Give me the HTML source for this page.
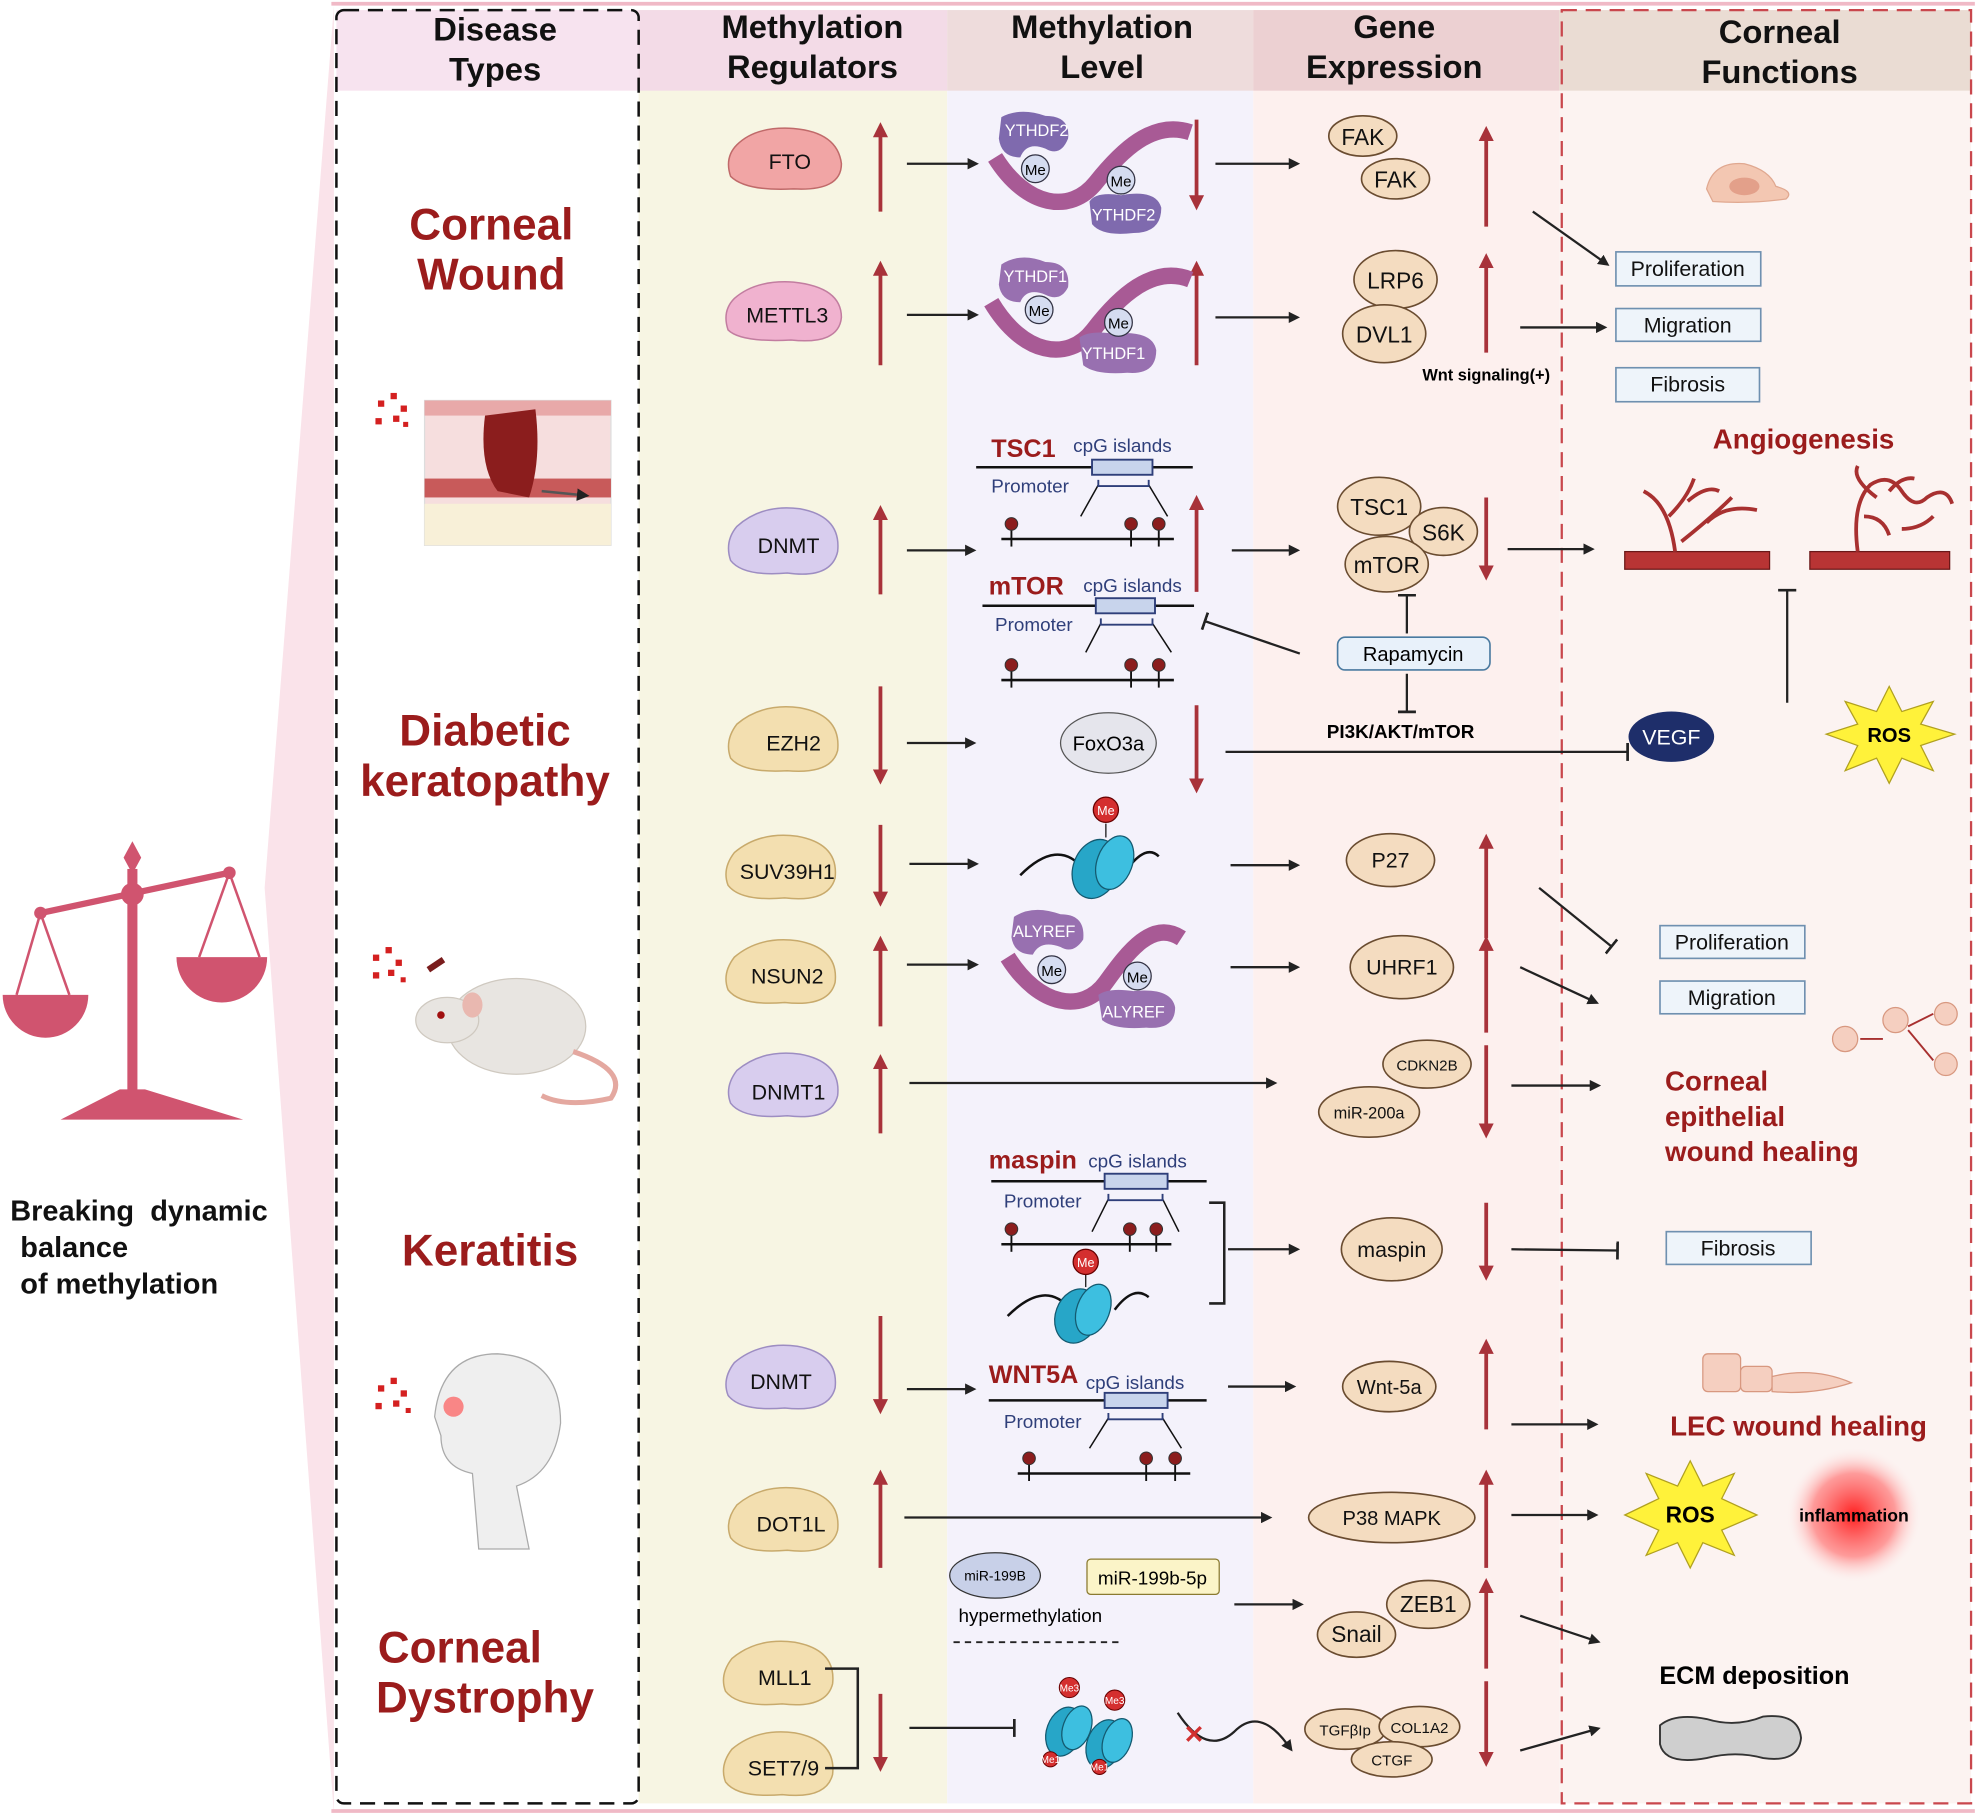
<!DOCTYPE html>
<html><head><meta charset="utf-8"><style>
html,body{margin:0;padding:0;background:#fff}
svg{display:block}
text{font-family:"Liberation Sans",Arial,sans-serif}
</style></head><body>
<svg width="1975" height="1816" viewBox="0 0 1568 1442" xmlns="http://www.w3.org/2000/svg">
<defs>
<marker id="rh" markerWidth="4" markerHeight="4" refX="1" refY="2" orient="auto"><path d="M0,0 L4,2 L0,4z" fill="#a8323a"/></marker>
<marker id="bh" markerWidth="5" markerHeight="5" refX="1" refY="2.5" orient="auto"><path d="M0,0 L5,2.5 L0,5z" fill="#222"/></marker>
<marker id="tb" markerWidth="2" markerHeight="8" refX="1" refY="4" orient="auto"><rect x="0" y="0" width="1.2" height="8" fill="#222"/></marker>
<radialGradient id="inf"><stop offset="0" stop-color="#ff2020"/><stop offset="0.6" stop-color="#ff6060" stop-opacity="0.6"/><stop offset="1" stop-color="#fff" stop-opacity="0"/></radialGradient>
</defs>
<rect width="1568" height="1442" fill="#fff"/>
<polygon points="265,5 210,705 265,1440" fill="#fae3ea"/>
<rect x="267" y="8" width="240" height="1424" fill="#fff"/>
<rect x="507" y="8" width="245" height="1424" fill="#f7f5e3"/>
<rect x="752" y="8" width="243" height="1424" fill="#f4f2fb"/>
<rect x="995" y="8" width="243" height="1424" fill="#fdf0ee"/>
<rect x="1238" y="8" width="327" height="1424" fill="#fcf3f1"/>
<rect x="267" y="8" width="240" height="64" fill="#f7e3ef"/>
<rect x="507" y="8" width="245" height="64" fill="#f3dbe7"/>
<rect x="752" y="8" width="243" height="64" fill="#eedcdc"/>
<rect x="995" y="8" width="243" height="64" fill="#ecd0d2"/>
<rect x="1238" y="8" width="327" height="64" fill="#eadcd3"/>
<line x1="263" y1="3" x2="1568" y2="3" stroke="#f0b9c6" stroke-width="3"/>
<line x1="263" y1="1438" x2="1568" y2="1438" stroke="#f0b9c6" stroke-width="3"/>
<rect x="267" y="8" width="240" height="1424" fill="none" stroke="#111" stroke-width="2" stroke-dasharray="12,7" rx="6"/>
<rect x="1240" y="8" width="325" height="1424" fill="none" stroke="#c9474d" stroke-width="1.8" stroke-dasharray="12,7"/>
<g font-size="26" font-weight="bold" fill="#111" text-anchor="middle">
<text x="393" y="32">Disease</text><text x="393" y="64">Types</text>
<text x="645" y="30">Methylation</text><text x="645" y="62">Regulators</text>
<text x="875" y="30">Methylation</text><text x="875" y="62">Level</text>
<text x="1107" y="30">Gene</text><text x="1107" y="62">Expression</text>
<text x="1413" y="34">Corneal</text><text x="1413" y="66">Functions</text>
</g>
<g font-size="35" font-weight="bold" fill="#9b1c1c" text-anchor="middle">
<text x="390" y="190">Corneal</text><text x="390" y="230">Wound</text>
<text x="385" y="592">Diabetic</text><text x="385" y="632">keratopathy</text>
<text x="389" y="1005">Keratitis</text>
<text x="365" y="1320">Corneal</text><text x="385" y="1360">Dystrophy</text>
</g>
<g fill="#d0546f" stroke="#d0546f">
<polygon points="105,668 112,681 105,694 98,681" stroke="none"/>
<rect x="101" y="690" width="8" height="180" stroke="none"/>
<line x1="32" y1="725" x2="182" y2="693" stroke-width="5"/>
<circle cx="105" cy="710" r="9" stroke="none"/>
<circle cx="32" cy="725" r="5" stroke="none"/><circle cx="182" cy="693" r="5" stroke="none"/>
<path d="M2,790 A34,34 0 0 0 70,790 Z" stroke="none"/>
<path d="M140,760 A36,36 0 0 0 212,760 Z" stroke="none"/>
<line x1="32" y1="725" x2="13" y2="790" stroke-width="2"/><line x1="32" y1="725" x2="55" y2="790" stroke-width="2"/>
<line x1="182" y1="693" x2="158" y2="760" stroke-width="2"/><line x1="182" y1="693" x2="206" y2="760" stroke-width="2"/>
<path d="M48,889 L95,865 L115,865 L193,889 Z" stroke="none"/>
</g>
<g font-size="23" font-weight="bold" fill="#111">
<text x="8" y="969" xml:space="preserve">Breaking  dynamic</text><text x="16" y="998">balance</text><text x="16" y="1027">of methylation</text>
</g>
<g>
<rect x="337" y="318" width="148" height="115" fill="#f6dede" stroke="#ddd"/>
<rect x="337" y="318" width="148" height="12" fill="#e8a9a9"/>
<rect x="337" y="380" width="148" height="15" fill="#c85a5a"/>
<rect x="337" y="400" width="148" height="33" fill="#f8f0d8"/>
<path d="M385,330 Q380,370 395,390 L420,395 Q430,365 425,325 Z" fill="#8b1d1d"/>
<path d="M430,390 L460,393" stroke="#555" stroke-width="2" marker-end="url(#bh)"/>
<g fill="#d42020"><rect x="300" y="318" width="5" height="5"/><rect x="310" y="312" width="5" height="5"/><rect x="318" y="322" width="5" height="5"/><rect x="298" y="332" width="5" height="5"/><rect x="312" y="330" width="5" height="5"/><rect x="320" y="335" width="4" height="4"/></g>
</g>
<g>
<ellipse cx="410" cy="815" rx="55" ry="38" fill="#e8e5e1" stroke="#cfc9c0"/>
<ellipse cx="355" cy="810" rx="25" ry="18" fill="#e8e5e1" stroke="#cfc9c0"/>
<ellipse cx="375" cy="798" rx="8" ry="10" fill="#e9b8b0"/>
<circle cx="350" cy="806" r="3" fill="#a01010"/>
<path d="M455,835 Q500,850 485,872 Q450,880 430,870" fill="none" stroke="#e4a8a0" stroke-width="4"/>
<path d="M340,770 L352,762" stroke="#7a1d1d" stroke-width="5"/>
<g fill="#d42020"><rect x="296" y="758" width="5" height="5"/><rect x="306" y="752" width="5" height="5"/><rect x="314" y="762" width="5" height="5"/><rect x="296" y="772" width="5" height="5"/><rect x="308" y="770" width="5" height="5"/><rect x="318" y="776" width="4" height="4"/></g>
</g>
<g>
<path d="M380,1230 L375,1170 Q350,1165 350,1140 L345,1125 Q350,1075 395,1075 Q445,1078 445,1130 Q440,1170 410,1180 L420,1230 Z" fill="#efefef" stroke="#aaa"/>
<circle cx="360" cy="1117" r="8" fill="#ff4040" opacity="0.6"/>
<g fill="#d42020"><rect x="300" y="1100" width="5" height="5"/><rect x="310" y="1094" width="5" height="5"/><rect x="318" y="1104" width="5" height="5"/><rect x="298" y="1114" width="5" height="5"/><rect x="312" y="1112" width="5" height="5"/><rect x="322" y="1118" width="4" height="4"/></g>
</g>
<g font-size="17" fill="#111" text-anchor="middle" stroke-width="1.2">
<path d="M585,115 Q600,100 630,102 Q665,105 668,130 Q668,152 630,150 Q592,152 580,140 Q575,125 585,115Z" fill="#f1a5a5" stroke="#c06a6a"/><text x="627" y="134">FTO</text>
<path d="M583,237 Q600,222 630,224 Q668,228 668,252 Q666,274 628,270 Q588,272 578,262 Q573,247 583,237Z" fill="#f0b2cf" stroke="#c27da0"/><text x="625" y="256">METTL3</text>
<path d="M585,418 Q605,400 635,404 Q668,410 665,438 Q660,460 625,455 Q590,458 580,445 Q575,430 585,418Z" fill="#d8cdee" stroke="#9d8dc2"/><text x="626" y="439">DNMT</text>
<path d="M585,575 Q605,558 635,562 Q668,568 665,596 Q660,615 625,612 Q590,614 580,602 Q575,588 585,575Z" fill="#f3dfb0" stroke="#c8aa6c"/><text x="630" y="596">EZH2</text>
<path d="M583,677 Q603,660 633,664 Q666,670 663,697 Q658,717 623,713 Q588,716 578,703 Q573,690 583,677Z" fill="#f3dfb0" stroke="#c8aa6c"/><text x="625" y="698">SUV39H1</text>
<path d="M583,760 Q603,743 633,747 Q666,753 663,780 Q658,800 623,796 Q588,799 578,786 Q573,773 583,760Z" fill="#f3dfb0" stroke="#c8aa6c"/><text x="625" y="781">NSUN2</text>
<path d="M585,850 Q605,833 635,837 Q668,843 665,870 Q660,890 625,886 Q590,889 580,876 Q575,863 585,850Z" fill="#d8cdee" stroke="#9d8dc2"/><text x="626" y="873">DNMT1</text>
<path d="M583,1082 Q603,1065 633,1069 Q666,1075 663,1102 Q658,1122 623,1118 Q588,1121 578,1108 Q573,1095 583,1082Z" fill="#d8cdee" stroke="#9d8dc2"/><text x="620" y="1103">DNMT</text>
<path d="M585,1195 Q605,1178 635,1182 Q668,1188 665,1215 Q660,1235 625,1231 Q590,1234 580,1221 Q575,1208 585,1195Z" fill="#f3dfb0" stroke="#c8aa6c"/><text x="628" y="1216">DOT1L</text>
<path d="M581,1317 Q601,1300 631,1304 Q664,1310 661,1337 Q656,1357 621,1353 Q586,1356 576,1343 Q571,1330 581,1317Z" fill="#f3dfb0" stroke="#c8aa6c"/><text x="623" y="1338">MLL1</text>
<path d="M581,1389 Q601,1372 631,1376 Q664,1382 661,1409 Q656,1429 621,1425 Q586,1428 576,1415 Q571,1402 581,1389Z" fill="#f3dfb0" stroke="#c8aa6c"/><text x="622" y="1410">SET7/9</text>
</g>
<path d="M655,1325 H681 V1404 H655" fill="none" stroke="#222" stroke-width="2"/>
<g stroke="#a8323a" stroke-width="3" fill="none" marker-end="url(#rh)">
<line x1="699" y1="168" x2="699" y2="106"/>
<line x1="699" y1="290" x2="699" y2="216"/>
<line x1="699" y1="472" x2="699" y2="410"/>
<line x1="699" y1="545" x2="699" y2="614"/>
<line x1="699" y1="655" x2="699" y2="711"/>
<line x1="699" y1="815" x2="699" y2="752"/>
<line x1="699" y1="900" x2="699" y2="846"/>
<line x1="699" y1="1045" x2="699" y2="1114"/>
<line x1="699" y1="1245" x2="699" y2="1176"/>
<line x1="699" y1="1345" x2="699" y2="1398"/>
<line x1="950" y1="95" x2="950" y2="158"/>
<line x1="950" y1="290" x2="950" y2="216"/>
<line x1="950" y1="470" x2="950" y2="402"/>
<line x1="950" y1="560" x2="950" y2="621"/>
<line x1="1180" y1="180" x2="1180" y2="109"/>
<line x1="1180" y1="280" x2="1180" y2="210"/>
<line x1="1180" y1="395" x2="1180" y2="452"/>
<line x1="1180" y1="745" x2="1180" y2="671"/>
<line x1="1180" y1="820" x2="1180" y2="752"/>
<line x1="1180" y1="830" x2="1180" y2="895"/>
<line x1="1180" y1="955" x2="1180" y2="1008"/>
<line x1="1180" y1="1135" x2="1180" y2="1072"/>
<line x1="1180" y1="1245" x2="1180" y2="1176"/>
<line x1="1180" y1="1325" x2="1180" y2="1262"/>
<line x1="1180" y1="1335" x2="1180" y2="1394"/>
</g>
<g stroke="#222" stroke-width="1.8" fill="none" marker-end="url(#bh)">
<line x1="720" y1="130" x2="770" y2="130"/>
<line x1="720" y1="250" x2="770" y2="250"/>
<line x1="720" y1="437" x2="768" y2="437"/>
<line x1="720" y1="590" x2="768" y2="590"/>
<line x1="722" y1="686" x2="770" y2="686"/>
<line x1="720" y1="766" x2="770" y2="766"/>
<line x1="722" y1="860" x2="1007" y2="860"/>
<line x1="720" y1="1103" x2="768" y2="1103"/>
<line x1="718" y1="1205" x2="1003" y2="1205"/>
<line x1="965" y1="130" x2="1025" y2="130"/>
<line x1="965" y1="252" x2="1025" y2="252"/>
<line x1="978" y1="437" x2="1025" y2="437"/>
<line x1="977" y1="687" x2="1025" y2="687"/>
<line x1="977" y1="768" x2="1025" y2="768"/>
<line x1="975" y1="992" x2="1025" y2="992"/>
<line x1="975" y1="1101" x2="1022" y2="1101"/>
<line x1="980" y1="1274" x2="1028" y2="1274"/>
<line x1="1217" y1="168" x2="1272" y2="207"/>
<line x1="1207" y1="260" x2="1269" y2="260"/>
<line x1="1197" y1="436" x2="1259" y2="436"/>
<line x1="1207" y1="768" x2="1263" y2="794"/>
<line x1="1200" y1="862" x2="1264" y2="862"/>
<line x1="1200" y1="1131" x2="1262" y2="1131"/>
<line x1="1200" y1="1203" x2="1262" y2="1203"/>
<line x1="1207" y1="1283" x2="1264" y2="1302"/>
<line x1="1207" y1="1390" x2="1264" y2="1374"/>
<path d="M935,1360 Q958,1395 980,1375 Q1000,1355 1022,1385"/>
</g>
<g stroke="#222" stroke-width="1.8" fill="none" marker-end="url(#tb)">
<line x1="1032" y1="519" x2="956" y2="493"/>
<line x1="1117" y1="503" x2="1117" y2="472"/>
<line x1="1117" y1="535" x2="1117" y2="566"/>
<line x1="973" y1="597" x2="1293" y2="597"/>
<line x1="1419" y1="558" x2="1419" y2="468"/>
<line x1="1222" y1="705" x2="1280" y2="752"/>
<line x1="1200" y1="992" x2="1285" y2="993"/>
<line x1="722" y1="1372" x2="806" y2="1372"/>
</g>
<g>
<path d="M790,125 C815,165 850,170 870,145 S915,95 945,105" fill="none" stroke="#a85a95" stroke-width="13"/>
<path d="M795,93 Q810,85 830,92 Q850,92 848,110 Q842,125 830,118 Q815,112 810,125 Q795,125 793,110Z" fill="#7f6aae"/>
<text x="823" y="108" font-size="13" fill="#fff" text-anchor="middle">YTHDF2</text>
<path d="M865,160 Q870,152 890,155 Q918,150 922,165 Q922,185 900,185 Q875,188 867,178Z" fill="#7f6aae"/>
<text x="892" y="175" font-size="13" fill="#fff" text-anchor="middle">YTHDF2</text>
<circle cx="822" cy="134" r="11" fill="#d5dcf0" stroke="#334"/><text x="822" y="139" font-size="12" text-anchor="middle">Me</text>
<circle cx="890" cy="143" r="11" fill="#d5dcf0" stroke="#334"/><text x="890" y="148" font-size="12" text-anchor="middle">Me</text>
<path d="M787,240 C812,282 848,288 868,262 S915,210 945,222" fill="none" stroke="#a85a95" stroke-width="13"/>
<path d="M795,210 Q810,200 830,208 Q850,208 848,228 Q842,240 830,234 Q815,228 810,240 Q795,240 793,226Z" fill="#9870b0"/>
<text x="822" y="224" font-size="13" fill="#fff" text-anchor="middle">YTHDF1</text>
<path d="M857,268 Q865,262 885,265 Q915,262 918,278 Q918,298 895,296 Q870,298 860,290Z" fill="#9870b0"/>
<text x="884" y="285" font-size="13" fill="#fff" text-anchor="middle">YTHDF1</text>
<circle cx="825" cy="246" r="11" fill="#d5dcf0" stroke="#334"/><text x="825" y="251" font-size="12" text-anchor="middle">Me</text>
<circle cx="888" cy="256" r="11" fill="#d5dcf0" stroke="#334"/><text x="888" y="261" font-size="12" text-anchor="middle">Me</text>
<path d="M800,760 C825,800 860,805 878,780 S915,730 938,745" fill="none" stroke="#a85a95" stroke-width="13"/>
<path d="M805,728 Q820,718 842,726 Q862,726 860,746 Q852,758 842,752 Q826,746 820,758 Q805,758 803,744Z" fill="#9870b0"/>
<text x="829" y="744" font-size="13" fill="#fff" text-anchor="middle">ALYREF</text>
<path d="M872,790 Q880,784 900,787 Q930,784 933,800 Q933,818 910,816 Q885,818 875,810Z" fill="#9870b0"/>
<text x="900" y="808" font-size="13" fill="#fff" text-anchor="middle">ALYREF</text>
<circle cx="835" cy="770" r="11" fill="#d5dcf0" stroke="#334"/><text x="835" y="775" font-size="12" text-anchor="middle">Me</text>
<circle cx="903" cy="775" r="11" fill="#d5dcf0" stroke="#334"/><text x="903" y="780" font-size="12" text-anchor="middle">Me</text>
</g>
<g stroke="#111" stroke-width="2" fill="none">
<line x1="775" y1="371" x2="947" y2="371"/><line x1="795" y1="428" x2="932" y2="428"/>
<line x1="780" y1="481" x2="948" y2="481"/><line x1="795" y1="540" x2="932" y2="540"/>
<line x1="787" y1="938" x2="958" y2="938"/><line x1="795" y1="988" x2="930" y2="988"/>
<line x1="785" y1="1112" x2="958" y2="1112"/><line x1="808" y1="1170" x2="945" y2="1170"/>
</g>
<g stroke="#111" stroke-width="1.2" fill="none">
<path d="M858,410 L872,385 M927,410 L912,385"/>
<path d="M862,518 L874,495 M930,518 L915,495"/>
<path d="M867,978 L880,952 M936,978 L923,952"/>
<path d="M865,1150 L880,1126 M938,1150 L923,1126"/>
</g>
<g stroke="#2f3f7a" stroke-width="1.5" fill="none">
<path d="M872,381 V386 H912 V381"/><path d="M874,491 V496 H915 V491"/>
<path d="M880,948 V953 H923 V948"/><path d="M880,1122 V1127 H923 V1122"/>
</g>
<g fill="#c8d4ec" stroke="#2f3f7a" stroke-width="1.5">
<rect x="867" y="365" width="48" height="12"/><rect x="870" y="475" width="47" height="12"/>
<rect x="877" y="932" width="50" height="12"/><rect x="877" y="1106" width="50" height="12"/>
</g>
<g stroke="#111" stroke-width="1.5">
<line x1="803" y1="420" x2="803" y2="434"/><line x1="898" y1="420" x2="898" y2="434"/><line x1="920" y1="420" x2="920" y2="434"/>
<line x1="803" y1="532" x2="803" y2="546"/><line x1="898" y1="532" x2="898" y2="546"/><line x1="920" y1="532" x2="920" y2="546"/>
<line x1="803" y1="980" x2="803" y2="994"/><line x1="897" y1="980" x2="897" y2="994"/><line x1="918" y1="980" x2="918" y2="994"/>
<line x1="817" y1="1162" x2="817" y2="1176"/><line x1="910" y1="1162" x2="910" y2="1176"/><line x1="933" y1="1162" x2="933" y2="1176"/>
</g>
<g fill="#8b1d1d" stroke="#333" stroke-width="0.8">
<circle cx="803" cy="416" r="5"/><circle cx="898" cy="416" r="5"/><circle cx="920" cy="416" r="5"/>
<circle cx="803" cy="528" r="5"/><circle cx="898" cy="528" r="5"/><circle cx="920" cy="528" r="5"/>
<circle cx="803" cy="976" r="5"/><circle cx="897" cy="976" r="5"/><circle cx="918" cy="976" r="5"/>
<circle cx="817" cy="1158" r="5"/><circle cx="910" cy="1158" r="5"/><circle cx="933" cy="1158" r="5"/>
</g>
<g font-weight="bold" fill="#9b1c1c" font-size="20">
<text x="787" y="363">TSC1</text><text x="785" y="472">mTOR</text><text x="785" y="928">maspin</text><text x="785" y="1098">WNT5A</text>
</g>
<g fill="#2f3f7a" font-size="15">
<text x="852" y="359">cpG islands</text><text x="787" y="391">Promoter</text>
<text x="860" y="470">cpG islands</text><text x="790" y="501">Promoter</text>
<text x="864" y="927">cpG islands</text><text x="797" y="959">Promoter</text>
<text x="862" y="1103">cpG islands</text><text x="797" y="1134">Promoter</text>
</g>
<path d="M960,955 H972 V1035 H960" fill="none" stroke="#222" stroke-width="2"/>
<g>
<path d="M810,695 Q840,665 860,690 M895,690 Q910,670 920,680" fill="none" stroke="#111" stroke-width="2"/>
<ellipse cx="870" cy="690" rx="18" ry="24" fill="#27a6c8" stroke="#145a70" transform="rotate(20 870 690)"/>
<ellipse cx="885" cy="685" rx="14" ry="22" fill="#3dbfe0" stroke="#145a70" transform="rotate(20 885 685)"/>
<line x1="878" y1="654" x2="878" y2="665" stroke="#111"/>
<circle cx="878" cy="643" r="10" fill="#d42f2f" stroke="#600"/><text x="878" y="647" font-size="10" fill="#fff" text-anchor="middle">Me</text>
<path d="M800,1045 Q830,1015 850,1040 M885,1040 Q900,1020 912,1030" fill="none" stroke="#111" stroke-width="2"/>
<ellipse cx="855" cy="1045" rx="17" ry="22" fill="#27a6c8" stroke="#145a70" transform="rotate(20 855 1045)"/>
<ellipse cx="868" cy="1040" rx="13" ry="21" fill="#3dbfe0" stroke="#145a70" transform="rotate(20 868 1040)"/>
<line x1="862" y1="1012" x2="862" y2="1022" stroke="#111"/>
<circle cx="862" cy="1002" r="10" fill="#d42f2f" stroke="#600"/><text x="862" y="1006" font-size="10" fill="#fff" text-anchor="middle">Me</text>
<ellipse cx="845" cy="1375" rx="14" ry="20" fill="#27a6c8" stroke="#145a70" transform="rotate(20 845 1375)"/>
<ellipse cx="855" cy="1372" rx="11" ry="18" fill="#3dbfe0" stroke="#145a70" transform="rotate(20 855 1372)"/>
<ellipse cx="877" cy="1385" rx="14" ry="20" fill="#27a6c8" stroke="#145a70" transform="rotate(20 877 1385)"/>
<ellipse cx="887" cy="1382" rx="11" ry="18" fill="#3dbfe0" stroke="#145a70" transform="rotate(20 887 1382)"/>
<g fill="#d42f2f" stroke="#600" stroke-width="0.8">
<circle cx="849" cy="1340" r="8"/><circle cx="885" cy="1350" r="8"/><circle cx="834" cy="1397" r="6"/><circle cx="873" cy="1403" r="6"/></g>
<g font-size="8" fill="#fff" text-anchor="middle"><text x="849" y="1343">Me3</text><text x="885" y="1353">Me3</text><text x="834" y="1400">Me1</text><text x="873" y="1406">Me1</text></g>
<text x="948" y="1384" font-size="20" fill="#d23030" text-anchor="middle" font-weight="bold">✕</text>
</g>
<ellipse cx="880" cy="590" rx="38" ry="24" fill="#e5e5ec" stroke="#555"/>
<text x="880" y="596" font-size="16" text-anchor="middle">FoxO3a</text>
<ellipse cx="790" cy="1251" rx="36" ry="18" fill="#c8d0e8" stroke="#333"/>
<text x="790" y="1255" font-size="11" text-anchor="middle">miR-199B</text>
<rect x="863" y="1238" width="105" height="28" rx="3" fill="#fbf4c8" stroke="#8a7a30"/>
<text x="915" y="1258" font-size="15" text-anchor="middle">miR-199b-5p</text>
<text x="818" y="1288" font-size="15" text-anchor="middle">hypermethylation</text>
<line x1="757" y1="1304" x2="892" y2="1304" stroke="#222" stroke-width="1.5" stroke-dasharray="5,4"/>
<g fill="#f4dcc0" stroke="#6a4c30" stroke-width="1.3">
<ellipse cx="1082" cy="108" rx="27" ry="16"/><ellipse cx="1108" cy="142" rx="27" ry="16"/>
<ellipse cx="1108" cy="222" rx="33" ry="23"/><ellipse cx="1099" cy="265" rx="33" ry="23"/>
<ellipse cx="1095" cy="402" rx="33" ry="23"/><ellipse cx="1146" cy="422" rx="27" ry="19"/><ellipse cx="1101" cy="448" rx="33" ry="22"/>
<ellipse cx="1104" cy="683" rx="35" ry="21"/>
<ellipse cx="1113" cy="768" rx="41" ry="25"/>
<ellipse cx="1133" cy="845" rx="35" ry="19"/><ellipse cx="1087" cy="883" rx="40" ry="20"/>
<ellipse cx="1105" cy="992" rx="40" ry="25"/>
<ellipse cx="1103" cy="1101" rx="37" ry="20"/>
<ellipse cx="1105" cy="1205" rx="66" ry="20"/>
<ellipse cx="1134" cy="1274" rx="33" ry="19"/><ellipse cx="1077" cy="1298" rx="31" ry="18"/>
<ellipse cx="1068" cy="1373" rx="32" ry="16"/><ellipse cx="1127" cy="1371" rx="32" ry="16"/><ellipse cx="1105" cy="1397" rx="32" ry="14"/>
</g>
<g font-size="18" text-anchor="middle" fill="#111">
<text x="1082" y="115">FAK</text><text x="1108" y="149">FAK</text>
<text x="1108" y="229">LRP6</text><text x="1099" y="272">DVL1</text>
<text x="1095" y="409">TSC1</text><text x="1146" y="429">S6K</text><text x="1101" y="455">mTOR</text>
<text x="1104" y="689" font-size="17">P27</text><text x="1113" y="774" font-size="17">UHRF1</text>
<text x="1133" y="850" font-size="12">CDKN2B</text><text x="1087" y="888" font-size="13">miR-200a</text>
<text x="1105" y="998" font-size="17">maspin</text><text x="1103" y="1107" font-size="16">Wnt-5a</text>
<text x="1105" y="1211" font-size="16">P38 MAPK</text>
<text x="1134" y="1280">ZEB1</text><text x="1077" y="1304">Snail</text>
<text x="1068" y="1378" font-size="12">TGFβIp</text><text x="1127" y="1376" font-size="12">COL1A2</text><text x="1105" y="1402" font-size="12">CTGF</text>
</g>
<text x="1180" y="302" font-size="13" font-weight="bold" text-anchor="middle">Wnt signaling(+)</text>
<rect x="1062" y="506" width="121" height="26" rx="6" fill="#e8f1fa" stroke="#4a7aa0" stroke-width="1.3"/>
<text x="1122" y="525" font-size="16" text-anchor="middle">Rapamycin</text>
<text x="1112" y="586" font-size="15" font-weight="bold" text-anchor="middle">PI3K/AKT/mTOR</text>
<g fill="#eef4fa" stroke="#6f90b0" stroke-width="1.3">
<rect x="1283" y="200" width="115" height="27"/><rect x="1283" y="245" width="115" height="26"/><rect x="1283" y="292" width="114" height="27"/>
<rect x="1318" y="735" width="115" height="26"/><rect x="1318" y="779" width="115" height="26"/><rect x="1323" y="978" width="115" height="26"/>
</g>
<g font-size="17" text-anchor="middle" fill="#111">
<text x="1340" y="219">Proliferation</text><text x="1340" y="264">Migration</text><text x="1340" y="311">Fibrosis</text>
<text x="1375" y="754">Proliferation</text><text x="1375" y="798">Migration</text><text x="1380" y="997">Fibrosis</text>
</g>
<g font-size="22" font-weight="bold" fill="#9b1c1c">
<text x="1432" y="356" text-anchor="middle">Angiogenesis</text>
<text x="1322" y="866">Corneal</text><text x="1322" y="894">epithelial</text><text x="1322" y="922">wound healing</text>
<text x="1428" y="1140" text-anchor="middle">LEC wound healing</text>
</g>
<text x="1393" y="1337" font-size="20" font-weight="bold" text-anchor="middle">ECM deposition</text>
<path d="M1355,150 Q1360,128 1385,130 Q1405,135 1410,148 Q1425,152 1418,158 Q1390,162 1360,160 Z" fill="#f3c7b2" stroke="#e0a890"/>
<ellipse cx="1385" cy="148" rx="12" ry="7" fill="#e3a08a"/>
<g fill="#b83434" stroke="#6a1818" stroke-width="1">
<rect x="1290" y="438" width="115" height="14"/><rect x="1437" y="438" width="111" height="14"/>
</g>
<g fill="none" stroke="#a83030" stroke-width="3">
<path d="M1330,438 Q1325,400 1305,390 M1325,410 Q1340,395 1345,380 M1335,430 Q1360,410 1375,395 M1355,415 Q1370,400 1395,405 M1340,398 Q1355,385 1365,390"/>
<path d="M1475,438 Q1470,400 1485,385 Q1500,375 1510,390 Q1520,405 1530,395 Q1545,385 1550,400 M1480,410 Q1495,410 1500,425 M1490,395 Q1470,380 1475,370 M1510,420 Q1525,420 1535,410 M1500,390 Q1510,378 1520,380"/>
</g>
<ellipse cx="1327" cy="585" rx="34" ry="20" fill="#1e2e6a"/>
<text x="1327" y="591" font-size="17" fill="#fff" text-anchor="middle">VEGF</text>
<polygon points="1500,545 1510,565 1535,557 1525,575 1552,583 1525,592 1535,612 1510,602 1500,622 1490,602 1465,612 1475,592 1450,583 1475,575 1465,557 1490,565" fill="#fff23a" stroke="#b0a020"/>
<text x="1500" y="589" font-size="16" font-weight="bold" text-anchor="middle">ROS</text>
<polygon points="1342,1160 1352,1180 1377,1170 1367,1190 1395,1203 1367,1215 1377,1235 1352,1225 1342,1245 1332,1225 1307,1235 1317,1215 1290,1203 1317,1190 1307,1170 1332,1180" fill="#fff23a" stroke="#b0a020"/>
<text x="1342" y="1209" font-size="18" font-weight="bold" text-anchor="middle">ROS</text>
<circle cx="1472" cy="1203" r="55" fill="url(#inf)"/>
<text x="1472" y="1208" font-size="14" font-weight="bold" text-anchor="middle">inflammation</text>
<g fill="#f5cfc0" stroke="#d89880">
<circle cx="1465" cy="825" r="10"/><circle cx="1505" cy="810" r="10"/><circle cx="1545" cy="805" r="9"/><circle cx="1545" cy="845" r="9"/>
<rect x="1352" y="1075" width="30" height="30" rx="4"/><rect x="1382" y="1085" width="25" height="20" rx="4"/><path d="M1407,1093 Q1440,1085 1470,1098 Q1440,1108 1407,1105Z"/>
</g>
<path d="M1477,825 H1495 M1515,815 L1535,805 M1515,818 L1535,842" stroke="#a83030" stroke-width="1.5"/>
<path d="M1318,1370 Q1330,1360 1355,1365 Q1378,1372 1400,1363 Q1428,1360 1430,1380 Q1428,1400 1400,1396 Q1378,1390 1355,1396 Q1322,1402 1318,1385Z" fill="#cfcfcf" stroke="#333" stroke-width="1.5"/>
</svg>
</body></html>
